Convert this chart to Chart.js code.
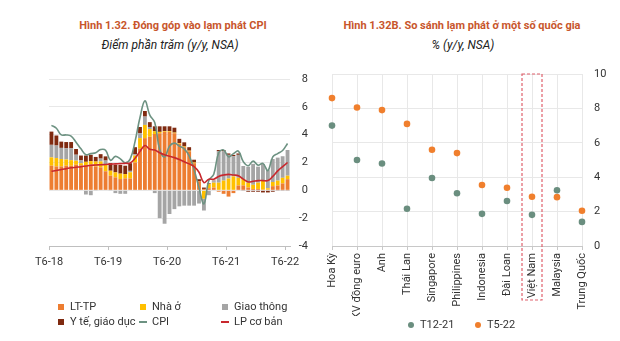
<!DOCTYPE html>
<html>
<head>
<meta charset="utf-8">
<script src="https://cdn.jsdelivr.net/npm/chart.js@4.4.1/dist/chart.umd.min.js"></script>
<style>
  body { margin: 0; background: #fff; font-family: Roboto, sans-serif; }
  #wrap { position: relative; width: 620px; height: 341px; overflow: hidden; }
  .title { position: absolute; top: 19px; transform: translateX(-50%); white-space: nowrap;
           font-weight: bold; font-size: 11px; line-height: 13px; color: #c8562c; }
  .sub { position: absolute; top: 38px; transform: translateX(-50%); white-space: nowrap;
         font-style: italic; font-size: 12px; line-height: 14px; color: #222; }
  canvas { position: absolute; top: 0; }
  .item { position: absolute; font-size: 11px; line-height: 13px; color: #333; white-space: nowrap; }
  .mk { display: inline-block; vertical-align: middle; margin-right: 5px; }
</style>
</head>
<body>
<div id="wrap">
  <div class="title" style="left:173px">Hình 1.32. Đóng góp vào lạm phát CPI</div>
  <div class="sub" style="left:170px">Điểm phần trăm (y/y, NSA)</div>
  <div class="title" style="left:462px">Hình 1.32B. So sánh lạm phát ở một số quốc gia</div>
  <div class="sub" style="left:463px">% (y/y, NSA)</div>
  <canvas id="cpi_chart" width="310" height="341" style="left:0"></canvas>
  <canvas id="country_chart" width="310" height="341" style="left:310px"></canvas>
  <div id="cpi_legend"></div>
  <div id="country_legend"></div>
</div>
<script>
// Data - left chart (monthly, T6-18 .. T6-22)

const months = [
  'T6-18','T7-18','T8-18','T9-18','T10-18','T11-18','T12-18',
  'T1-19','T2-19','T3-19','T4-19','T5-19','T6-19','T7-19','T8-19','T9-19','T10-19','T11-19','T12-19',
  'T1-20','T2-20','T3-20','T4-20','T5-20','T6-20','T7-20','T8-20','T9-20','T10-20','T11-20','T12-20',
  'T1-21','T2-21','T3-21','T4-21','T5-21','T6-21','T7-21','T8-21','T9-21','T10-21','T11-21','T12-21',
  'T1-22','T2-22','T3-22','T4-22','T5-22','T6-22'
];

const ltTp = [1.77,1.72,1.72,1.77,1.77, 1.84,1.8,1.8,1.85,1.72, 1.65,1.37,1.05,0.93,0.81,
  0.86,0.85,2.0,3.0,3.75, 3.85,4.05,4.1,4.2,4.2, 4.1,3.35,3.1,2.8,1.95,
  0.65,0.1,0.15,0.2,-0.1, -0.25,-0.45,-0.2,0.35,0.35, 0.2,0.1,0.1,0.05,0.05, 0.3,0.35,0.5,0.8];
const nhaO = [0.6,0.6,0.53,0.45,0.4, 0.29,0.15,0.25,0.25,0.35, 0.43,0.47,0.36,0.36,0.39,
  0.31,0.45,0.5,0.75,0.95, 0.55,0.2,0.1,0.05,0.05, 0.05,0.05,0.05,0.05,0.05,
  0.0,-0.6,0.3,0.35,0.55, 0.7,0.85,1.0,0.55,0.45, 0.35,0.3,0.45,0.65,0.1, 0.3,0.35,0.4,0.25];
const giaoThong = [0.9,0.9,0.8,0.8,0.85, 0.43,0.2,-0.3,-0.35,-0.05, 0.2,0.3,-0.05,-0.2,-0.25,
  -0.25,0.1,0.1,0.35,0.6, 0.15,-0.2,-2.0,-2.4,-1.7, -1.35,-1.15,-1.1,-1.1,-1.1,
  -0.95,-0.85,-0.35,0.1,2.25, 2.1,1.7,1.45,1.65,0.95, 1.15,1.5,1.15,1.2,1.3, 1.65,1.65,1.55,1.85];
const yTe = [0.95,0.72,0.45,0.45,0.45, 0.41,0.35,0.45,0.45,0.33, 0.32,0.3,0.55,0.55,0.62,
  0.6,0.55,0.5,0.45,0.4, 0.35,0.35,0.4,0.35,0.35, 0.35,0.3,0.3,0.25,0.2,
  0.15,0.1,0.05,0.05,0.1, 0.1,0.1,0.1,0.1,-0.05, -0.1,-0.1,-0.1,-0.15,-0.15, -0.1,-0.05,-0.05,-0.05];
const cpi = [4.67,4.46,3.98,3.98,3.89, 3.46,2.98,2.56,2.64,2.70, 2.93,2.88,2.16,2.44,2.26,
  1.98,2.24,3.52,5.23,6.43, 5.40,4.87,2.93,2.40,3.17, 3.39,3.18,2.98,2.47,1.48,
  0.19,-0.97,0.70,1.16,2.70, 2.90,2.41,2.64,2.82,2.06, 1.77,2.10,1.81,1.94,1.42, 2.41,2.64,2.86,3.37];
const lpCoBan = [1.37,1.42,1.5,1.56,1.62, 1.66,1.7,1.75,1.8,1.82, 1.84,1.86,1.88,1.9,1.92,
  1.94,1.96,2.3,2.8,3.22, 2.95,2.9,2.7,2.55,2.45, 2.35,2.22,2.05,1.9,1.7,
  1.3,0.55,0.8,0.8,1.0, 1.1,1.15,1.1,1.05,0.8, 0.6,0.65,0.7,0.7,0.7, 1.0,1.4,1.7,2.0];

// Data - right chart

const countries = ['Hoa Kỳ','KV đồng euro','Anh','Thái Lan','Singapore','Philippines',
  'Indonesia','Đài Loan','Việt Nam','Malaysia','Trung Quốc'];
const t12_21 = [7.0, 5.0, 4.8, 2.17, 3.95, 3.07, 1.87, 2.62, 1.81, 3.24, 1.4];
const t5_22 = [8.6, 8.05, 7.9, 7.1, 5.6, 5.4, 3.55, 3.39, 2.86, 2.84, 2.05];

Chart.defaults.font.family = 'Roboto';
Chart.defaults.font.size = 11;
Chart.defaults.color = '#333';

// bars sit between month ticks, like the Excel original
const toXY = arr => arr.map((v, i) => ({ x: i + 0.5, y: v }));
const yearTicks = months.map((m, i) => i).filter(i => i % 12 === 0);

const cpi_chart = new Chart(document.getElementById('cpi_chart'), {
  type: 'bar',
  data: {
    datasets: [
      { label: 'LT-TP', data: toXY(ltTp), backgroundColor: '#ed7d31', stack: 'bars', order: 2 },
      { label: 'Nhà ở', data: toXY(nhaO), backgroundColor: '#ffc000', stack: 'bars', order: 2 },
      { label: 'Giao thông', data: toXY(giaoThong), backgroundColor: '#a5a5a5', stack: 'bars', order: 2 },
      { label: 'Y tế, giáo dục', data: toXY(yTe), backgroundColor: '#7f2a10', stack: 'bars', order: 2 },
      { type: 'line', label: 'CPI', data: toXY(cpi), borderColor: '#6d9282', borderWidth: 1.6,
        pointRadius: 0, tension: 0.4, stack: 'cpi', order: 1 },
      { type: 'line', label: 'LP cơ bản', data: toXY(lpCoBan), borderColor: '#c8282e', borderWidth: 1.6,
        pointRadius: 0, tension: 0.4, stack: 'core', order: 0 }
    ]
  },
  options: {
    responsive: false,
    animation: false,
    layout: { padding: { left: 49, right: 2, top: 79, bottom: 75 } },
    plugins: { legend: { display: false }, tooltip: { enabled: false } },
    datasets: { bar: { barPercentage: 0.78, categoryPercentage: 1 } },
    scales: {
      x: {
        type: 'linear', min: 0, max: months.length, stacked: true, offset: false,
        grid: { drawOnChartArea: false, tickLength: 4, color: '#bfbfbf', offset: false },
        border: { color: '#bfbfbf' },
        afterBuildTicks: s => { s.ticks = yearTicks.map(v => ({ value: v })); },
        ticks: { callback: v => months[v], maxRotation: 0, padding: 6 },
        afterFit: s => { s.height = 20; }
      },
      y: {
        position: 'right', min: -4, max: 8, stacked: true,
        ticks: { stepSize: 2, crossAlign: 'far' },
        grid: { color: '#e8e8e8', drawTicks: false },
        border: { display: false },
        afterFit: s => { s.width = 18; }
      }
    }
  }
});

const vnBox = {
  id: 'vnBox',
  afterDraw(chart) {
    const { ctx, chartArea, scales: { x } } = chart;
    const cx = x.getPixelForValue(countries.indexOf('Việt Nam'));
    ctx.save();
    ctx.strokeStyle = '#e0606c';
    ctx.lineWidth = 1.2;
    ctx.setLineDash([3, 2]);
    ctx.strokeRect(cx - 10, chartArea.top, 20, x.top + 54 - chartArea.top);
    ctx.restore();
  }
};

const country_chart = new Chart(document.getElementById('country_chart'), {
  type: 'line',
  data: {
    labels: countries,
    datasets: [
      { label: 'T12-21', data: t12_21, showLine: false, pointRadius: 3.3, pointBorderWidth: 0,
        pointBackgroundColor: '#6a8e7f', backgroundColor: '#6a8e7f', borderColor: '#6a8e7f' },
      { label: 'T5-22', data: t5_22, showLine: false, pointRadius: 3.3, pointBorderWidth: 0,
        pointBackgroundColor: '#f07f2d', backgroundColor: '#f07f2d', borderColor: '#f07f2d' }
    ]
  },
  options: {
    responsive: false,
    animation: false,
    layout: { padding: { left: 22, right: 14, top: 74, bottom: 25 } },
    plugins: { legend: { display: false }, tooltip: { enabled: false } },
    scales: {
      x: {
        offset: false,
        grid: { color: '#e8e8e8', tickLength: 4, tickColor: '#c8c8c8' },
        border: { color: '#c8c8c8' },
        ticks: { autoSkip: false, minRotation: 90, maxRotation: 90, padding: 3 },
        afterFit: s => { s.height = 70; }
      },
      y: {
        position: 'right', min: 0, max: 10,
        ticks: { stepSize: 2, padding: 12 },
        grid: { color: '#e8e8e8', drawTicks: false },
        border: { display: false },
        afterFit: s => { s.width = 24; }
      }
    }
  },
  plugins: [vnBox]
});

// HTML legends built from the datasets

function addItem(parent, left, top, marker, text) {
  const d = document.createElement('div');
  d.className = 'item';
  d.style.left = left + 'px';
  d.style.top = top + 'px';
  d.appendChild(marker);
  d.appendChild(document.createTextNode(text));
  parent.appendChild(d);
}

const cpiLegend = document.getElementById('cpi_legend');
cpi_chart.data.datasets.forEach((ds, k) => {
  const m = document.createElement('span');
  m.className = 'mk';
  if (ds.type === 'line') {
    m.style.cssText += 'width:8px;height:2px;background:' + ds.borderColor;
  } else {
    m.style.cssText += 'width:6px;height:6px;margin-left:1px;margin-right:6px;background:' + ds.backgroundColor;
  }
  addItem(cpiLegend, 57 + (k % 3) * 82, 300 + Math.floor(k / 3) * 15, m, ds.label);
});

const countryLegend = document.getElementById('country_legend');
country_chart.data.datasets.forEach((ds, k) => {
  const m = document.createElement('span');
  m.className = 'mk';
  m.style.cssText += 'width:6px;height:6px;border-radius:50%;margin-right:6px;background:' + ds.pointBackgroundColor;
  addItem(countryLegend, 408 + k * 67, 318, m, ds.label);
});
</script>
</body>
</html>
